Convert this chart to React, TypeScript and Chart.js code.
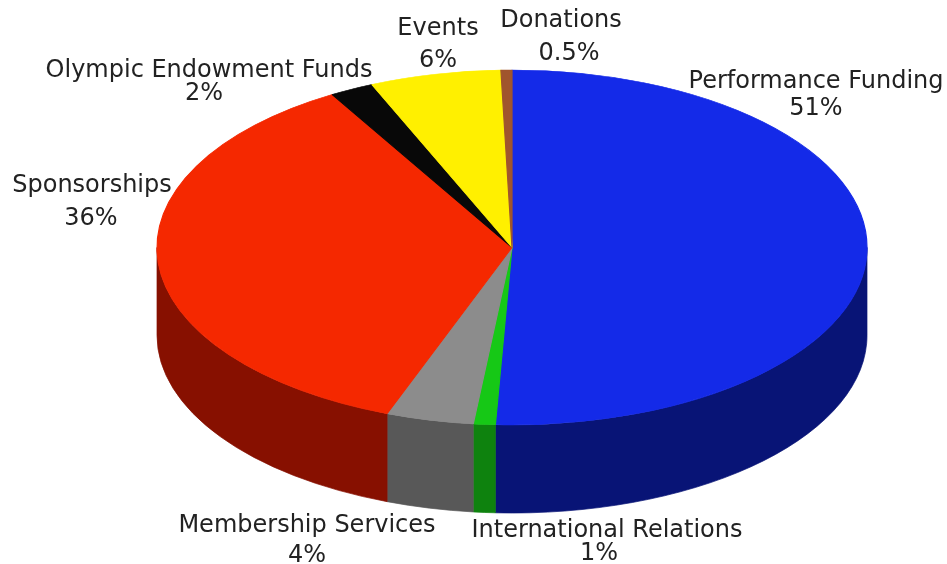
import React, { useEffect, useRef } from "react";
import { Chart, registerables } from "chart.js";

Chart.register(...registerables);

// ---- data ----
const categories = [
  "Performance Funding",
  "International Relations",
  "Membership Services",
  "Sponsorships",
  "Olympic Endowment Funds",
  "Events",
  "Donations",
];
const shares = [51, 1, 4, 36, 2, 6, 0.5];
const topColors = [
  "rgb(20,42,232)",
  "rgb(22,200,22)",
  "rgb(140,140,140)",
  "rgb(245,40,0)",
  "rgb(8,8,8)",
  "rgb(255,240,0)",
  "rgb(160,85,45)",
];
const sideColors = [
  "rgb(8,20,118)",
  "rgb(14,130,14)",
  "rgb(88,88,88)",
  "rgb(135,16,0)",
  "rgb(0,0,0)",
  "rgb(150,140,0)",
  "rgb(95,50,25)",
];

// ---- layout (label anchors: centre x and baseline of each line) ----
const LABEL_POS = [
  { x1: 816, y1: 88, x2: 816, y2: 115 },
  { x1: 607, y1: 537, x2: 599, y2: 560 },
  { x1: 307, y1: 532, x2: 307, y2: 562 },
  { x1: 92, y1: 192, x2: 91, y2: 225 },
  { x1: 209, y1: 77, x2: 204, y2: 100 },
  { x1: 438, y1: 35, x2: 438, y2: 67 },
  { x1: 561, y1: 27, x2: 569, y2: 60 },
];
const DEPTH = 88;
const FONT = '24px "DejaVu Sans", Verdana, sans-serif';

const pie3d = {
  id: "pie3d",
  beforeDatasetsDraw(chart: any) {
    const meta = chart.getDatasetMeta(0);
    const ca = chart.chartArea;
    const first = meta.data[0];
    if (!first) return;
    const cx = first.x;
    const cy = first.y;
    const R = first.outerRadius;
    const rx = (ca.right - ca.left) / 2;
    const ry = (ca.bottom - ca.top) / 2;
    const ctx = chart.ctx;
    // visible outer wall of the disc
    meta.data.forEach((el: any, i: number) => {
      const s = Math.max(el.startAngle, 0);
      const e = Math.min(el.endAngle, Math.PI);
      if (e <= s) return;
      ctx.beginPath();
      ctx.ellipse(cx, cy, rx, ry, 0, s, e, false);
      ctx.ellipse(cx, cy + DEPTH, rx, ry, 0, e, s, true);
      ctx.closePath();
      ctx.fillStyle = sideColors[i];
      ctx.fill();
      ctx.strokeStyle = sideColors[i];
      ctx.lineWidth = 0.7;
      ctx.stroke();
    });
    // squash the pie into the top ellipse
    ctx.save();
    ctx.translate(cx, cy);
    ctx.scale(rx / R, ry / R);
    ctx.translate(-cx, -cy);
  },
  afterDatasetsDraw(chart: any) {
    const ctx = chart.ctx;
    ctx.restore();
    ctx.save();
    ctx.font = FONT;
    ctx.fillStyle = "#222222";
    ctx.textAlign = "center";
    ctx.textBaseline = "alphabetic";
    categories.forEach((name, i) => {
      const p = LABEL_POS[i];
      ctx.fillText(name, p.x1, p.y1);
      ctx.fillText(`${shares[i]}%`, p.x2, p.y2);
    });
    ctx.restore();
  },
};

export default function App() {
  const ref = useRef<HTMLCanvasElement>(null);
  useEffect(() => {
    if (!ref.current) return;
    const chart = new Chart(ref.current, {
      type: "pie",
      data: {
        labels: categories,
        datasets: [
          {
            data: shares,
            backgroundColor: topColors,
            borderColor: topColors,
            borderWidth: 0.6,
            clip: false as any,
          },
        ],
      },
      options: {
        responsive: false,
        animation: false,
        devicePixelRatio: 1,
        layout: { padding: { left: 157, right: 80, top: 70, bottom: 139 } },
        plugins: {
          legend: { display: false },
          tooltip: { enabled: false },
        },
      },
      plugins: [pie3d],
    });
    return () => chart.destroy();
  }, []);
  return (
    <div style={{ position: "absolute", left: 0, top: 0, width: 947, height: 564, background: "#fff" }}>
      <canvas ref={ref} width={947} height={564} style={{ display: "block" }} />
    </div>
  );
}
